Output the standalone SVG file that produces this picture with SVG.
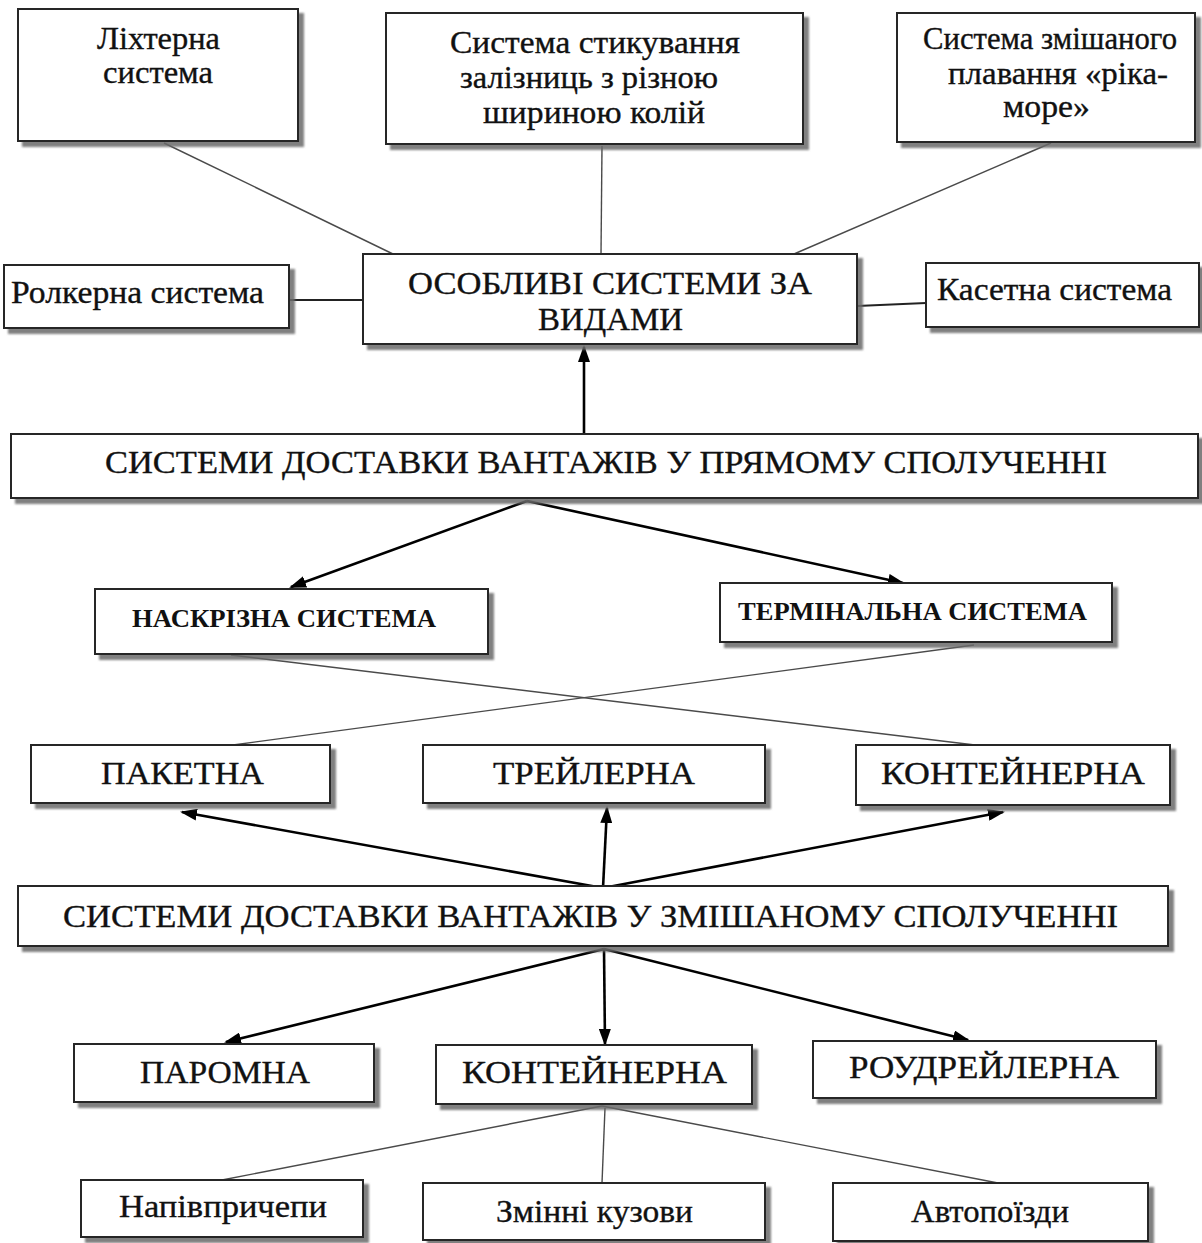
<svg xmlns="http://www.w3.org/2000/svg" width="1202" height="1243" viewBox="0 0 1202 1243">
  <defs>
    <filter id="shadow" x="-5%" y="-10%" width="115%" height="130%">
      <feDropShadow dx="5" dy="5" stdDeviation="1.2" flood-color="#6a6a6a" flood-opacity="0.85"/>
    </filter>
    <marker id="arrow" markerUnits="userSpaceOnUse" markerWidth="17" markerHeight="12" viewBox="0 0 17 12" refX="15" refY="6" orient="auto">
      <path d="M0,0 L17,6 L0,12 z" fill="#000"/>
    </marker>
  </defs>
  <style>
    .box { fill: #fff; stroke: #262626; stroke-width: 2; filter: url(#shadow); }
    .t { font-family: "Liberation Serif", "Times New Roman", serif; font-size: 31px; fill: #111; stroke: #111; stroke-width: 0.35; }
    .tb { font-family: "Liberation Serif", "Times New Roman", serif; font-size: 25px; font-weight: bold; fill: #111; }
    .thin { stroke: #4a4a4a; stroke-width: 1.4; fill: none; }
    .link { stroke: #222; stroke-width: 1.8; fill: none; }
    .arr { stroke: #000; stroke-width: 2.6; fill: none; marker-end: url(#arrow); }
  </style>
  <rect width="1202" height="1243" fill="#fff"/>

  <g id="connectors">
    <line class="thin" x1="164" y1="143" x2="393" y2="254"/>
    <line class="thin" x1="602" y1="146" x2="601" y2="254"/>
    <line class="thin" x1="1051" y1="143" x2="794" y2="254"/>
    <line class="link" x1="289" y1="300" x2="363" y2="300"/>
    <line class="link" x1="857" y1="306" x2="926" y2="303"/>
    <line class="arr" x1="584" y1="434" x2="584" y2="347"/>
    <line class="arr" x1="527" y1="501" x2="291" y2="587"/>
    <line class="arr" x1="527" y1="501" x2="903" y2="583"/>
    <line class="thin" x1="231" y1="655" x2="975" y2="745"/>
    <line class="thin" x1="974" y1="645" x2="233" y2="745"/>
    <line class="arr" x1="603" y1="888" x2="182" y2="812"/>
    <line class="arr" x1="603" y1="888" x2="607" y2="808"/>
    <line class="arr" x1="603" y1="888" x2="1003" y2="812"/>
    <line class="arr" x1="604" y1="949" x2="226" y2="1042"/>
    <line class="arr" x1="604" y1="949" x2="605" y2="1044"/>
    <line class="arr" x1="604" y1="949" x2="968" y2="1040"/>
    <line class="thin" x1="602" y1="1106" x2="222" y2="1180"/>
    <line class="thin" x1="605" y1="1108" x2="602" y2="1183"/>
    <line class="thin" x1="602" y1="1106" x2="998" y2="1183"/>
  </g>

  <g id="n-lighter">
    <rect class="box" x="18" y="9" width="280" height="132"/>
    <text class="t" x="97" y="49" textLength="123" lengthAdjust="spacingAndGlyphs">Ліхтерна</text>
    <text class="t" x="103" y="83" textLength="110" lengthAdjust="spacingAndGlyphs">система</text>
  </g>
  <g id="n-gauge">
    <rect class="box" x="386" y="13" width="417" height="131"/>
    <text class="t" x="450" y="53" textLength="290" lengthAdjust="spacingAndGlyphs">Система стикування</text>
    <text class="t" x="460" y="88" textLength="258" lengthAdjust="spacingAndGlyphs">залізниць з різною</text>
    <text class="t" x="483" y="123" textLength="222" lengthAdjust="spacingAndGlyphs">шириною колій</text>
  </g>
  <g id="n-river-sea">
    <rect class="box" x="897" y="13" width="298" height="129"/>
    <text class="t" x="923" y="49" textLength="254" lengthAdjust="spacingAndGlyphs">Система змішаного</text>
    <text class="t" x="948" y="84" textLength="220" lengthAdjust="spacingAndGlyphs">плавання «ріка-</text>
    <text class="t" x="1003" y="117" textLength="87" lengthAdjust="spacingAndGlyphs">море»</text>
  </g>
  <g id="n-rolker">
    <rect class="box" x="4" y="265" width="285" height="63"/>
    <text class="t" x="11" y="303" textLength="253" lengthAdjust="spacingAndGlyphs">Ролкерна система</text>
  </g>
  <g id="n-special">
    <rect class="box" x="363" y="254" width="494" height="90"/>
    <text class="t" x="408" y="294" textLength="404" lengthAdjust="spacingAndGlyphs">ОСОБЛИВІ СИСТЕМИ ЗА</text>
    <text class="t" x="538" y="330" textLength="145" lengthAdjust="spacingAndGlyphs">ВИДАМИ</text>
  </g>
  <g id="n-cassette">
    <rect class="box" x="926" y="263" width="273" height="64"/>
    <text class="t" x="937" y="300" textLength="235" lengthAdjust="spacingAndGlyphs">Касетна система</text>
  </g>
  <g id="n-direct">
    <rect class="box" x="11" y="434" width="1187" height="64"/>
    <text class="t" x="105" y="473" textLength="1002" lengthAdjust="spacingAndGlyphs">СИСТЕМИ ДОСТАВКИ ВАНТАЖІВ У ПРЯМОМУ СПОЛУЧЕННІ</text>
  </g>
  <g id="n-through">
    <rect class="box" x="95" y="589" width="393" height="65"/>
    <text class="tb" x="132" y="627" textLength="304" lengthAdjust="spacingAndGlyphs">НАСКРІЗНА СИСТЕМА</text>
  </g>
  <g id="n-terminal">
    <rect class="box" x="720" y="583" width="392" height="59"/>
    <text class="tb" x="738" y="620" textLength="349" lengthAdjust="spacingAndGlyphs">ТЕРМІНАЛЬНА СИСТЕМА</text>
  </g>
  <g id="n-packet">
    <rect class="box" x="31" y="745" width="299" height="58"/>
    <text class="t" x="101" y="784" textLength="163" lengthAdjust="spacingAndGlyphs">ПАКЕТНА</text>
  </g>
  <g id="n-trailer">
    <rect class="box" x="423" y="745" width="342" height="58"/>
    <text class="t" x="493" y="784" textLength="202" lengthAdjust="spacingAndGlyphs">ТРЕЙЛЕРНА</text>
  </g>
  <g id="n-container-direct">
    <rect class="box" x="856" y="745" width="314" height="60"/>
    <text class="t" x="881" y="784" textLength="264" lengthAdjust="spacingAndGlyphs">КОНТЕЙНЕРНА</text>
  </g>
  <g id="n-mixed">
    <rect class="box" x="18" y="886" width="1150" height="60"/>
    <text class="t" x="63" y="927" textLength="1055" lengthAdjust="spacingAndGlyphs">СИСТЕМИ ДОСТАВКИ ВАНТАЖІВ У ЗМІШАНОМУ СПОЛУЧЕННІ</text>
  </g>
  <g id="n-ferry">
    <rect class="box" x="74" y="1044" width="300" height="58"/>
    <text class="t" x="140" y="1083" textLength="170" lengthAdjust="spacingAndGlyphs">ПАРОМНА</text>
  </g>
  <g id="n-container-mixed">
    <rect class="box" x="436" y="1045" width="316" height="59"/>
    <text class="t" x="462" y="1083" textLength="265" lengthAdjust="spacingAndGlyphs">КОНТЕЙНЕРНА</text>
  </g>
  <g id="n-roadrailer">
    <rect class="box" x="813" y="1041" width="343" height="57"/>
    <text class="t" x="849" y="1078" textLength="270" lengthAdjust="spacingAndGlyphs">РОУДРЕЙЛЕРНА</text>
  </g>
  <g id="n-semitrailers">
    <rect class="box" x="81" y="1180" width="282" height="57"/>
    <text class="t" x="119" y="1217" textLength="208" lengthAdjust="spacingAndGlyphs">Напівпричепи</text>
  </g>
  <g id="n-swap-bodies">
    <rect class="box" x="423" y="1183" width="342" height="57"/>
    <text class="t" x="496" y="1222" textLength="197" lengthAdjust="spacingAndGlyphs">Змінні кузови</text>
  </g>
  <g id="n-road-trains">
    <rect class="box" x="833" y="1183" width="315" height="58"/>
    <text class="t" x="911" y="1222" textLength="158" lengthAdjust="spacingAndGlyphs">Автопоїзди</text>
  </g>
</svg>
